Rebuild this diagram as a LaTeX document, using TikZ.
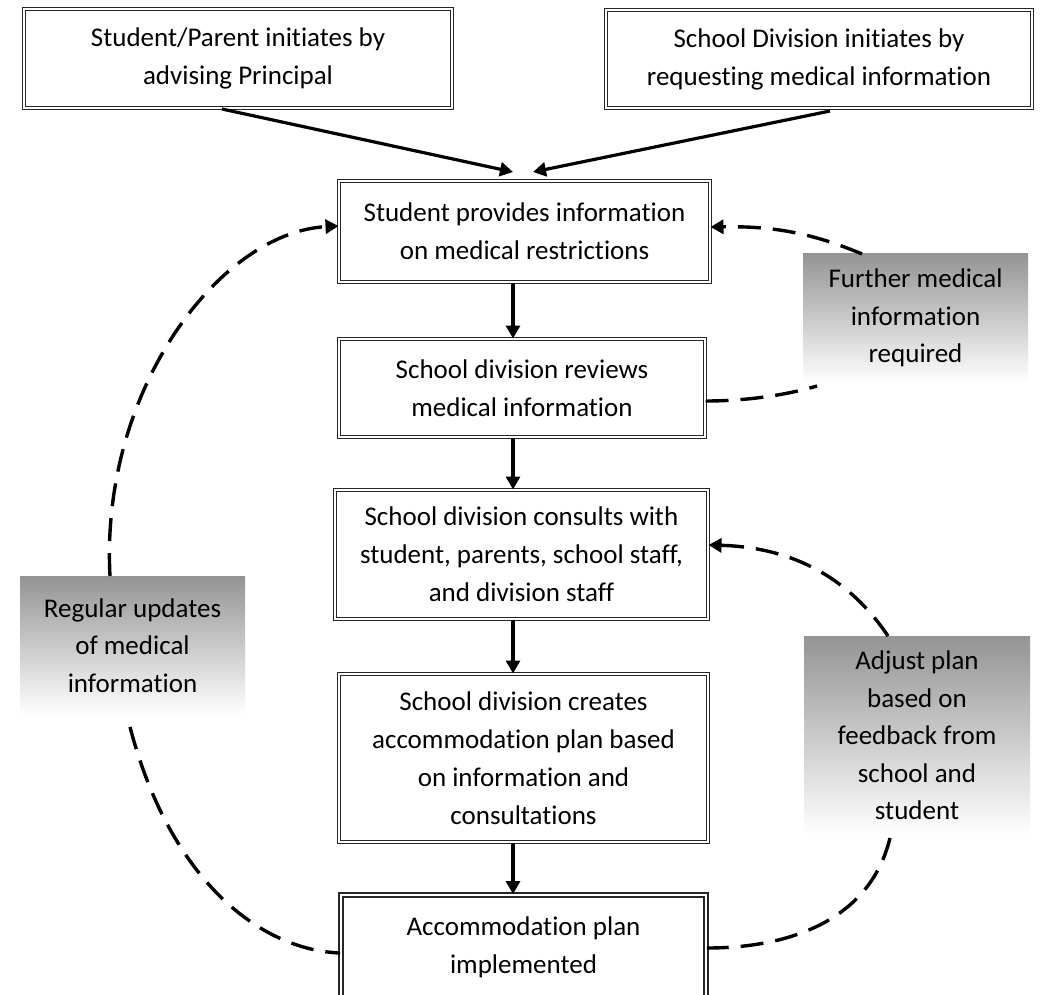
\documentclass[tikz,border=0pt]{standalone}
\usepackage{fontspec}
\setmainfont{Carlito}[Ligatures=NoCommon]
\usetikzlibrary{arrows.meta}
\begin{document}
\begin{tikzpicture}[x=1pt,y=-1pt,
  box/.style={draw=black!85, double, double distance=2.4pt, line width=1pt,
    align=center, inner sep=0pt, font=\fontsize{27}{38}\selectfont},
  bigbox/.style={box, line width=1.8pt, double distance=2.2pt},
  graybox/.style={top color=black!42, bottom color=white, draw=none,
    align=center, inner sep=0pt, font=\fontsize{27}{37.5}\selectfont},
  arr/.style={line width=3.2pt, -{Triangle[length=13pt,width=14pt]}},
  darr/.style={line width=3.4pt, dash pattern=on 23pt off 12pt, -{Triangle[length=13pt,width=14pt]}},
  dline/.style={line width=3.4pt, dash pattern=on 23pt off 12pt}]
\useasboundingbox (0,0) rectangle (1041,994);
\fill[white] (0,0) rectangle (1041,994);

\node[box, minimum width=428pt, minimum height=99pt] (A) at (238,58.5)
  {Student/Parent initiates by\\advising Principal};
\node[box, minimum width=426pt, minimum height=98pt] (B) at (819,59)
  {School Division initiates by\\requesting medical information};
\node[box, minimum width=371pt, minimum height=101pt] (C) at (524.5,231.5)
  {Student provides information\\on medical restrictions};
\node[box, minimum width=366pt, minimum height=98pt] (D) at (522,388)
  {School division reviews\\medical information};
\node[box, minimum width=373pt, minimum height=129pt] (E) at (521.5,554.5)
  {School division consults with\\student, parents, school staff,\\and division staff};
\node[box, minimum width=369pt, minimum height=168pt] (F) at (523.5,758)
  {School division creates\\accommodation plan based\\on information and\\consultations};
\node[bigbox, minimum width=365pt, minimum height=104pt] (G) at (523.5,947)
  {Accommodation plan\\implemented};

\node[graybox, minimum width=225pt, minimum height=130pt] (R1) at (915.5,318)
  {Further medical\\information\\required};
\node[graybox, minimum width=225pt, minimum height=139pt] (R2) at (132.5,645.5)
  {Regular updates\\of medical\\information};
\node[graybox, minimum width=226pt, minimum height=199pt] (R3) at (917,735.5)
  {Adjust plan\\based on\\feedback from\\school and\\student};

\coordinate (ax) at (513,0);
\coordinate (tipA) at (513,172);
\coordinate (tipB) at (533,172);
\coordinate (srcA) at (222,109);
\coordinate (srcB) at (830,111);

% solid arrows
\draw[arr] (srcA) -- (tipA);
\draw[arr] (srcB) -- (tipB);
\draw[arr] (C.south -| ax) -- (D.north -| ax);
\draw[arr] (D.south -| ax) -- (E.north -| ax);
\draw[arr] (E.south -| ax) -- (F.north -| ax);
\draw[arr] (F.south -| ax) -- (G.north -| ax);

% dashed connectors
\coordinate (r1top) at (862,254);
\coordinate (r1bot) at (817,386);
\coordinate (r2top) at (110,576);
\coordinate (r2bot) at (130,727);
\coordinate (r3top) at (888,636);
\coordinate (r3bot) at (890,838);

\draw[darr] (r1top) .. controls (810,232) and (770,226) .. (C.east |- 0,227);
\draw[dline] (D.east |- 0,401) .. controls (750,401) and (790,394) .. (r1bot);
\draw[darr] (r2top) .. controls (100,390) and (220,232) .. (C.west |- 0,226);
\draw[dline] (r2bot) .. controls (170,880) and (260,950) .. (G.west |- 0,953);
\draw[darr] (r3top) .. controls (845,572) and (785,547) .. (E.east |- 0,545);
\draw[dline] (r3bot) .. controls (870,920) and (790,948) .. (G.east |- 0,948);
\end{tikzpicture}
\end{document}
